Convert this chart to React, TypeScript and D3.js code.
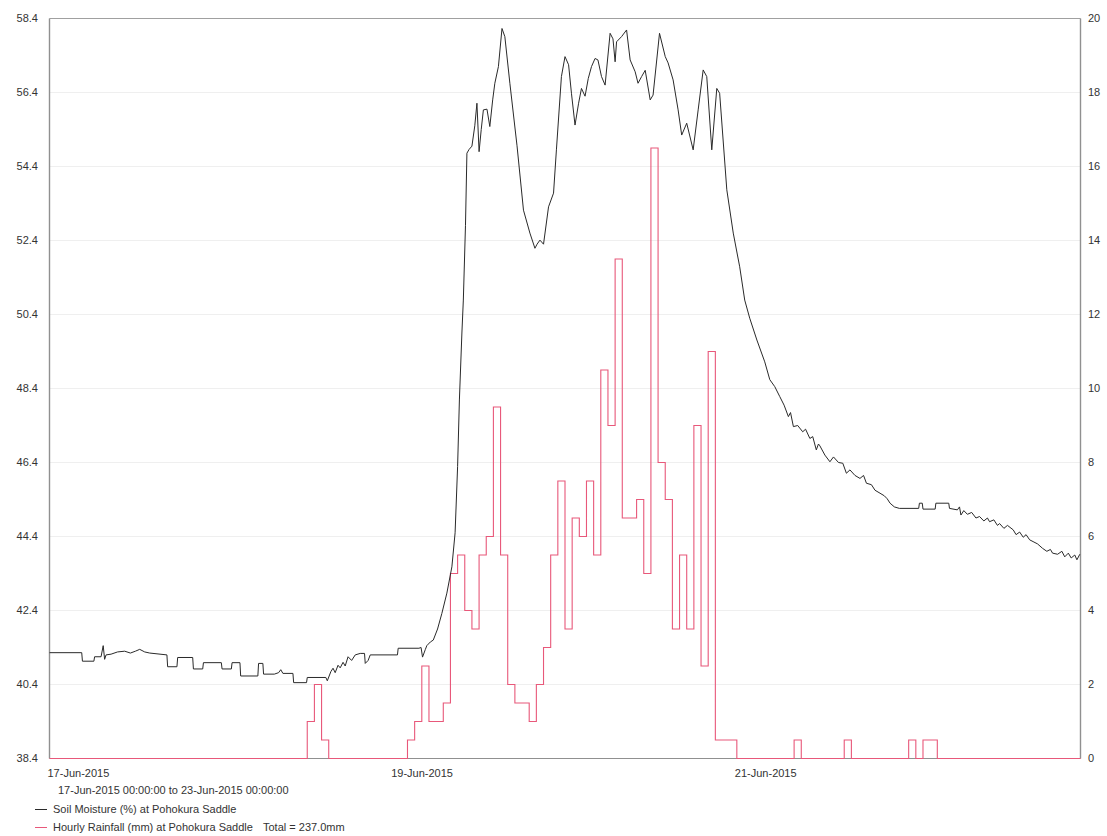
import React from "react";
import * as d3 from "d3";

// ---- data ----
const startDate = Date.UTC(2015, 5, 17, 0, 0, 0);
const endDate = Date.UTC(2015, 5, 23, 0, 0, 0);

const dateTickHours = [0, 48, 96];
const dateTickLabels = ["17-Jun-2015", "19-Jun-2015", "21-Jun-2015"];

const leftTicks = [38.4, 40.4, 42.4, 44.4, 46.4, 48.4, 50.4, 52.4, 54.4, 56.4, 58.4];
const rightTicks = [0, 2, 4, 6, 8, 10, 12, 14, 16, 18, 20];

// hourly rainfall (mm), hour index from 17-Jun-2015 00:00 (all other hours 0)
const rainHour = [
  36, 37, 38,
  50, 51, 52, 53, 54, 55, 56, 57, 58, 59, 60, 61, 62, 63,
  64, 65, 66, 67, 68, 69, 70, 71, 72, 73, 74, 75, 76, 77, 78, 79,
  80, 81, 82, 83, 84, 85, 86, 87, 88, 89, 90, 91, 92, 93, 94, 95,
  104, 111, 120, 122, 123,
];
const rainMm = [
  1.0, 2.0, 0.5,
  0.5, 1.0, 2.5, 1.0, 1.0, 1.5, 5.0, 5.5, 4.0, 3.5, 5.5, 6.0, 9.5, 5.5,
  2.0, 1.5, 1.5, 1.0, 2.0, 3.0, 5.5, 7.5, 3.5, 6.5, 6.0, 7.5, 5.5, 10.5, 9.0, 13.5,
  6.5, 6.5, 7.0, 5.0, 16.5, 8.0, 7.0, 3.5, 5.5, 3.5, 9.0, 2.5, 11.0, 0.5, 0.5, 0.5,
  0.5, 0.5, 0.5, 0.5, 0.5,
];
const totalHours = 144;

// soil moisture (%) readings, hour from 17-Jun-2015 00:00
const smHour = [
  0, 4.5, 4.6, 6.2, 6.3, 7.2, 7.5, 7.7, 7.9, 8.6, 9.5, 10.5, 11.3, 12.0, 12.6, 13.3, 14.0, 16.4, 16.5, 17.8,
  17.9, 20.0, 20.1, 21.4, 21.5, 24.0, 24.1, 25.4, 25.5, 26.6, 26.7, 29.1, 29.2, 29.8, 29.9, 31.4, 32.0, 32.3, 32.6, 34.0,
  34.1, 35.9, 36.0, 38.6, 38.8, 39.3, 39.6, 39.9, 40.3, 40.6, 41.0, 41.3, 41.7, 42.2, 42.7, 43.4, 44.0, 44.1, 44.5, 44.8,
  48.6, 48.7, 51.6, 51.9, 52.1, 52.5, 52.7, 53.2, 53.6, 54.2, 54.8, 55.5, 56.2, 56.65, 57.0, 57.25, 57.6, 57.8, 58.1, 58.3,
  58.6, 59.0, 59.4, 59.7, 60.0, 60.3, 60.6, 61.1, 61.5, 61.9, 62.2, 62.7, 63.2, 63.6, 64.3, 65.3, 66.2, 67.1, 67.8, 68.1,
  68.5, 69.0, 69.7, 70.4, 70.8, 71.5, 72.0, 72.5, 72.9, 73.4, 73.9, 74.3, 74.8, 75.25, 75.7, 76.2, 76.6, 77.1, 77.6, 78.3,
  78.7, 79.0, 79.2, 79.9, 80.6, 81.1, 81.8, 82.2, 82.7, 83.2, 83.9, 84.3, 85.2, 86.0, 86.4, 87.1, 87.8, 88.3, 89.0, 89.9,
  90.6, 91.3, 91.8, 92.5, 93.2, 93.6, 94.6, 95.5, 96.4, 97.1, 97.8, 98.8, 99.9, 100.6, 101.3, 102.0, 102.6, 103.2, 103.5, 103.9,
  104.5, 105.2, 105.6, 106.2, 106.6, 107.1, 107.4, 107.6, 108.3, 109.0, 109.5, 110.2, 110.8, 111.3, 111.8, 112.5, 113.2, 113.7, 114.1, 114.8,
  115.3, 116.0, 116.6, 117.0, 117.4, 118.0, 118.7, 121.4, 121.5, 121.9, 122.0, 123.7, 123.8, 125.6, 125.7, 126.8, 127.1, 127.3, 127.7, 128.2,
  128.8, 129.4, 129.9, 130.5, 131.0, 131.3, 131.9, 132.4, 132.7, 133.3, 133.8, 134.6, 135.0, 135.5, 136.0, 136.4, 136.9, 137.5, 138.0, 138.7,
  139.3, 139.8, 140.1, 140.8, 141.4, 141.8, 142.3, 142.7, 143.2, 143.5, 143.9,
];
const smPct = [
  41.26, 41.26, 41.03, 41.03, 41.15, 41.15, 41.45, 41.08, 41.2, 41.22, 41.28, 41.3, 41.25, 41.3, 41.35, 41.28, 41.25, 41.2, 40.88, 40.88,
  41.13, 41.13, 40.82, 40.82, 40.99, 40.99, 40.82, 40.82, 40.99, 40.99, 40.63, 40.63, 40.97, 40.97, 40.68, 40.68, 40.72, 40.8, 40.7, 40.7,
  40.45, 40.45, 40.59, 40.59, 40.5, 40.75, 40.84, 40.72, 40.92, 40.85, 41.0, 40.9, 41.15, 41.05, 41.2, 41.24, 41.24, 40.97, 41.05, 41.2,
  41.2, 41.38, 41.38, 41.4, 41.14, 41.35, 41.45, 41.55, 41.6, 41.9, 42.32, 42.87, 43.58, 44.5, 46.29, 48.09, 49.9, 50.79, 52.8, 54.76,
  54.86, 54.95, 55.5, 56.11, 54.8, 55.4, 55.93, 55.95, 55.48, 56.2, 56.65, 57.1, 58.13, 57.91, 56.65, 54.96, 53.22, 52.6, 52.19, 52.3,
  52.41, 52.3, 53.31, 53.68, 54.85, 56.83, 57.37, 57.15, 56.38, 55.52, 56.11, 56.51, 56.3, 56.78, 57.1, 57.32, 57.28, 56.83, 56.6, 58.0,
  57.85, 57.23, 57.77, 57.91, 58.09, 57.28, 56.96, 56.65, 56.83, 57.0, 56.2, 56.33, 58.0, 57.37, 57.2, 56.74, 55.93, 55.25, 55.57, 54.85,
  55.93, 57.01, 56.83, 54.85, 56.51, 56.38, 53.77, 52.6, 51.69, 50.79, 50.3, 49.71, 49.12, 48.64, 48.45, 48.18, 47.95, 47.64, 47.75, 47.37,
  47.4, 47.23, 47.3, 47.05, 47.1, 46.74, 46.9, 46.85, 46.6, 46.42, 46.55, 46.4, 46.38, 46.11, 46.2, 46.05, 45.97, 46.05, 45.84, 45.8,
  45.65, 45.57, 45.5, 45.42, 45.3, 45.2, 45.16, 45.16, 45.3, 45.3, 45.14, 45.14, 45.3, 45.3, 45.16, 45.12, 45.2, 44.98, 45.1, 45.0,
  45.05, 44.9, 44.94, 44.82, 44.9, 44.8, 44.85, 44.7, 44.75, 44.62, 44.7, 44.58, 44.45, 44.52, 44.38, 44.45, 44.31, 44.25, 44.2, 44.08,
  44.0, 44.05, 43.95, 43.92, 44.0, 43.85, 43.95, 43.82, 43.9, 43.77, 43.92,
];

const periodLabel = "17-Jun-2015 00:00:00 to 23-Jun-2015 00:00:00";
const legendSoil = "Soil Moisture (%) at Pohokura Saddle";
const legendRain = "Hourly Rainfall (mm) at Pohokura Saddle";
const totalLabel = "Total = 237.0mm";

const FONT = "'Liberation Sans', Arial, sans-serif";
const TEXT = "#333";
const RAIN = "#e8587a";
const SOIL = "#2a2a2a";

export default function App() {
  const W = 1107;
  const H = 836;
  const L = 49.5;
  const R = 1080.5;
  const T = 18.5;
  const B = 758.5;

  const hourMs = 3600 * 1000;
  const x = d3.scaleUtc().domain([new Date(startDate), new Date(endDate)]).range([L, R]);
  const xh = (h: number) => x(new Date(startDate + h * hourMs));
  const yL = d3.scaleLinear().domain([38.4, 58.4]).range([B, T]);
  const yR = d3.scaleLinear().domain([0, 20]).range([B, T]);

  // full hourly rain series
  const rainSeries: { h: number; v: number }[] = [];
  for (let h = 0; h <= totalHours; h++) {
    const idx = rainHour.indexOf(h);
    rainSeries.push({ h, v: idx >= 0 ? rainMm[idx] : 0 });
  }
  const rainLine = d3
    .line<{ h: number; v: number }>()
    .x((d) => xh(d.h))
    .y((d) => yR(d.v))
    .curve(d3.curveStepAfter);

  const smData = smHour.map((h, i) => ({ h, v: smPct[i] }));
  const smLine = d3
    .line<{ h: number; v: number }>()
    .x((d) => xh(d.h))
    .y((d) => yL(d.v));

  const fmtLeft = d3.format(".1f");

  return (
    <svg
      width={W}
      height={H}
      style={{ position: "absolute", left: 0, top: 0, background: "#fff" }}
      fontFamily={FONT}
    >
      <rect x={0} y={0} width={W} height={H} fill="#fff" />
      {/* gridlines */}
      {leftTicks.map((t) => (
        <line key={"g" + t} x1={L} x2={R} y1={yL(t)} y2={yL(t)} stroke="#efefef" strokeWidth={1} />
      ))}
      {/* frame */}
      <line x1={L} x2={R} y1={T} y2={T} stroke="#a0a0a0" strokeWidth={1.2} />
      <line x1={L} x2={L} y1={T} y2={B} stroke="#909090" strokeWidth={1.4} />
      <line x1={R} x2={R} y1={T} y2={B} stroke="#909090" strokeWidth={1.4} />
      <line x1={L} x2={R} y1={B} y2={B} stroke="#909090" strokeWidth={1} />

      {/* left ticks */}
      {leftTicks.map((t) => (
        <text key={"l" + t} x={38} y={yL(t)} dy="0.35em" textAnchor="end" fontSize={11} fill={TEXT}>
          {fmtLeft(t)}
        </text>
      ))}
      {/* right ticks */}
      {rightTicks.map((t) => (
        <text key={"r" + t} x={1088} y={yR(t)} dy="0.35em" textAnchor="start" fontSize={11} fill={TEXT}>
          {t}
        </text>
      ))}
      {/* date ticks */}
      {dateTickHours.map((h, i) => (
        <text key={"d" + h} x={xh(h) - 2} y={777} fontSize={11} fill={TEXT}>
          {dateTickLabels[i]}
        </text>
      ))}

      {/* series */}
      <path d={rainLine(rainSeries) || ""} fill="none" stroke={RAIN} strokeWidth={1.1} />
      <path d={smLine(smData) || ""} fill="none" stroke={SOIL} strokeWidth={1} />

      {/* footer */}
      <text x={58} y={794} fontSize={11} fill={TEXT}>
        {periodLabel}
      </text>
      <line x1={35} x2={47} y1={809.5} y2={809.5} stroke={SOIL} strokeWidth={1} />
      <text x={53} y={813} fontSize={11} fill={TEXT}>
        {legendSoil}
      </text>
      <line x1={35} x2={47} y1={827.5} y2={827.5} stroke={RAIN} strokeWidth={1} />
      <text x={53} y={831} fontSize={11} fill={TEXT}>
        {legendRain}
      </text>
      <text x={263} y={831} fontSize={11} fill={TEXT}>
        {totalLabel}
      </text>
    </svg>
  );
}
